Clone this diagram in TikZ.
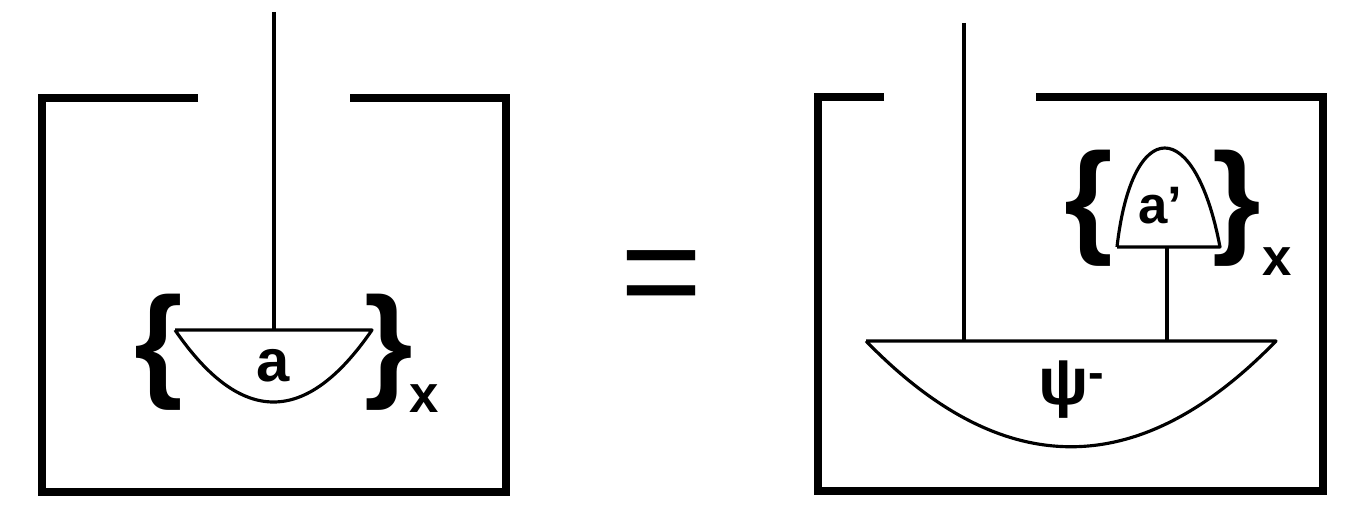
\documentclass[tikz,border=0pt]{standalone}
\usepackage{fontspec}
\setmainfont{Liberation Sans}
\usetikzlibrary{positioning}
\tikzset{wall/.style={line width=4.5pt, line join=miter},
  wire/.style={line width=2.2pt},
  cup/.style={line width=1.8pt, line join=round},
  lbl/.style={inner sep=0pt, font=\bfseries\fontsize{34}{40}\selectfont},
  brace/.style={inner sep=0pt, font=\bfseries\fontsize{71}{80}\selectfont},
  sub/.style={inner sep=0pt, anchor=base, font=\bfseries\fontsize{30}{36}\selectfont}}

\begin{document}
\begin{tikzpicture}[x=0.02cm, y=-0.02cm]
	\useasboundingbox (0,0) rectangle (1370,530);

	% left tank
	\draw[wall] (198,98) -- (42,98) -- (42,492) -- (506,492) -- (506,98) -- (350,98);
	\coordinate (top1) at (274,12);
	\coordinate (cup1l) at (175,330);
	\coordinate (cup1r) at (372,330);
	\coordinate (cup1m) at (274,330);
	\draw[wire] (top1) -- (cup1m);
	\draw[cup] (cup1l) -- (cup1r) .. controls (306,426) and (241,426) .. (cup1l);
	\node[lbl, anchor=base] (a) at (273,381) {a};
	\node[brace] (lb1) at (159,352) {\{};
	\node[brace] (rb1) at (389,352) {\}};
	\node[sub] (x1) at (424,413) {x};

	% equals
	\node[inner sep=0pt, font=\fontsize{80}{90}\selectfont] (eq) at (662,285.5) {=};

	% right tank
	\draw[wall] (884,97) -- (818,97) -- (818,491) -- (1323,491) -- (1323,97) -- (1036,97);
	\coordinate (top2) at (964,23);
	\coordinate (cup2l) at (866,341);
	\coordinate (cup2r) at (1276,341);
	\coordinate (cup2m) at (964,341);
	\coordinate (stem) at (1167,341);
	\coordinate (cap2l) at (1117,247);
	\coordinate (cap2r) at (1220,247);
	\coordinate (cap2m) at (1167,247);
	\draw[wire] (top2) -- (cup2m);
	\draw[cup] (cup2l) -- (cup2r) .. controls (1139,482) and (1003,482) .. (cup2l);
	\node[lbl, anchor=base, font=\bfseries\fontsize{38}{44}\selectfont] (psi) at (1072,404) {ψ\textsuperscript{-}};
	\draw[wire] (stem) -- (cap2m);
	\draw[cup] (cap2l) -- (cap2r) .. controls (1195,115) and (1132,115) .. (cap2l);
	\node[lbl, anchor=base, font=\bfseries\fontsize{30}{36}\selectfont] (a2) at (1160,224) {a’};
	\node[brace] (lb2) at (1089,208) {\{};
	\node[brace] (rb2) at (1237,208) {\}};
	\node[sub] (x2) at (1277,276) {x};
\end{tikzpicture}
\end{document}
